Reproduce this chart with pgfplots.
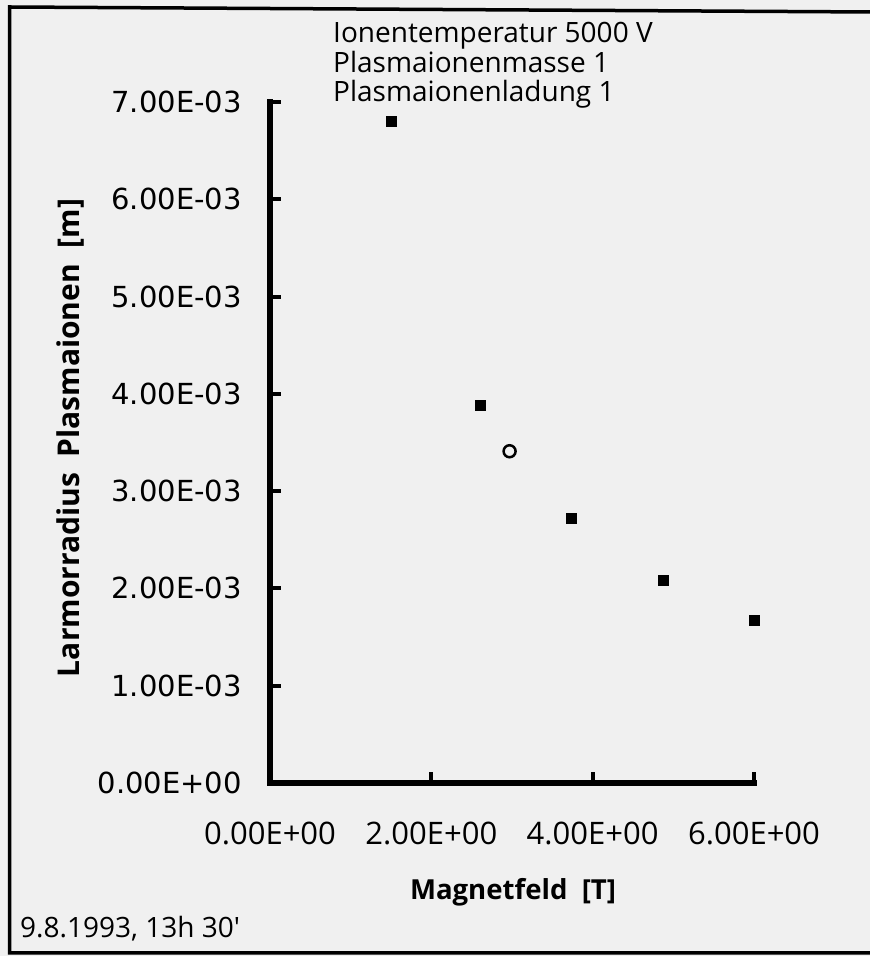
\documentclass[border=0pt]{standalone}
\usepackage{graphicx}
\usepackage{pgfplots}
\pgfplotsset{compat=1.18}
\usepackage{fontspec}
\setmainfont{Open Sans}
\newfontfamily\tickfont{DejaVu Sans}

\begin{document}
\begin{tikzpicture}[x=1pt,y=1pt]
  \fill[black!6] (0,0) rectangle (870,956);
  \useasboundingbox (0,0) rectangle (870,956);
  % outer frame, right side is cut off
  \draw[line width=3.5pt] (872,944) -- (9.5,949) -- (9.5,3) -- (872,3);

  \begin{axis}[
    at={(270pt,173pt)}, anchor=origin,
    scale only axis,
    width=484pt, height=681pt,
    xmin=0, xmax=6,
    ymin=0, ymax=0.007,
    clip=false,
    axis x line=bottom, axis y line=left,
    axis line style={line width=5.5pt, -, line cap=rect},
    tick align=inside,
    major tick length=11pt,
    tick style={line width=4pt, black},
    xtick={0,2,4,6},
    xticklabels={0.00E+00,2.00E+00,4.00E+00,6.00E+00},
    ytick={0,0.001,0.002,0.003,0.004,0.005,0.006,0.007},
    yticklabels={0.00E+00,1.00E-03,2.00E-03,3.00E-03,4.00E-03,5.00E-03,6.00E-03,7.00E-03},
    scaled y ticks=false,
    xticklabel style={font=\fontsize{31}{31}\selectfont, anchor=north, inner sep=0pt, yshift=-39pt},
    yticklabel style={font=\tickfont\fontsize{29}{29}\selectfont, anchor=east, inner sep=0pt, xshift=-28pt},
  ]
    \addplot[only marks, mark=square*, mark size=5pt, black]
      coordinates {(1.5,0.00680) (2.61,0.00388) (3.73,0.00272) (4.88,0.00208) (6.0,0.00167)};
    \addplot[only marks, mark=o, mark size=6pt, black, mark options={line width=2.5pt}]
      coordinates {(2.97,0.00341)};
  \end{axis}

  \begin{scope}[font=\fontsize{28}{28}\selectfont]
    \node[anchor=base west, inner sep=0pt] at (333,956-43) {Ionentemperatur 5000 V};
    \node[anchor=base west, inner sep=0pt] at (333,956-73) {Plasmaionenmasse 1};
    \node[anchor=base west, inner sep=0pt] at (333,956-102) {Plasmaionenladung 1};
    \node[anchor=base west, inner sep=0pt] at (20,956-937) {9.8.1993, 13h 30\textquotesingle};
  \end{scope}
  \node[rotate=90, anchor=base, inner sep=0pt]
    at (80,956-438) {\resizebox{478pt}{!}{\bfseries Larmorradius\ \ Plasmaionen\ \ [m]}};
  \node[anchor=base, inner sep=0pt]
    at (513,956-900) {\resizebox{206pt}{!}{\bfseries Magnetfeld\ \ [T]}};
\end{tikzpicture}
\end{document}
